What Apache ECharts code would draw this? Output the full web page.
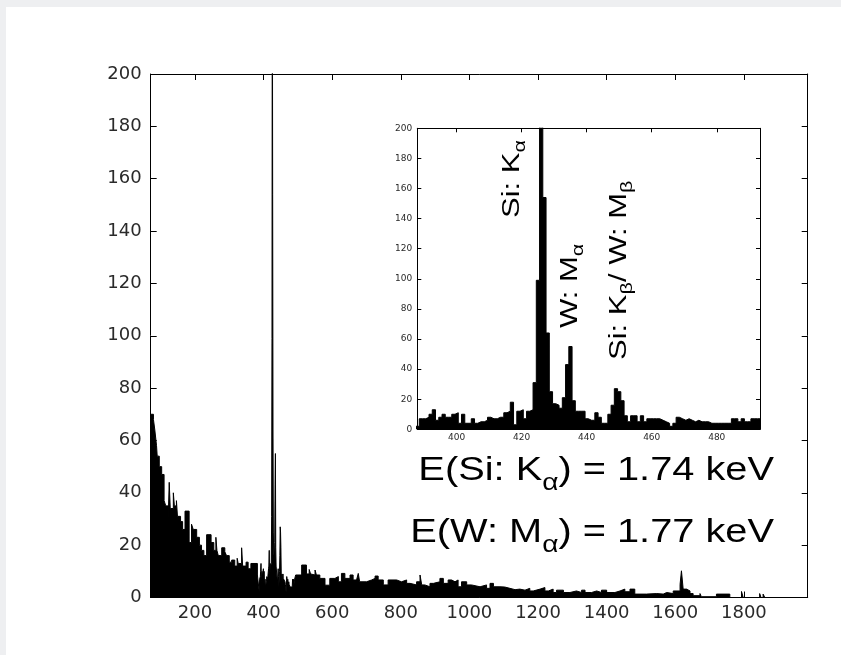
<!DOCTYPE html>
<html><head><meta charset="utf-8">
<script src="https://cdn.jsdelivr.net/npm/echarts@6/dist/echarts.min.js"></script>
<style>
html,body{margin:0;padding:0;background:#eeeff1;width:841px;height:655px;overflow:hidden}
#c{position:absolute;left:6px;top:7px;width:835px;height:648px;background:#fff}
</style></head><body><div id="c"></div>
<script>
// ---------- data ----------
const mainXTicks = [200, 400, 600, 800, 1000, 1200, 1400, 1600, 1800];
const insetXTicks = [400, 420, 440, 460, 480];
const mainXMin = 71, mainXMax = 1986;
const insetXMin = 387.9, insetXMax = 493.3;

// main spectrum, channels below the inset window (segment start channel, counts)
const lowStart = [70,79,83,88,90,96,103,110,115,122,125,128,137,140,146,149,158,164,171,183,190,195,205,213,219,226,234,247,255,261,264,268,278,287,292,300,307,316,323,326,336,339,349,355,363,382];
const lowCount = [70,68,64,58,54,50,47,37,35,30,44,34,40,35,37,31,29,26,33,21,28,26,23,20,18,16,24,21,18,23,18,16,19,17.5,16,13.5,14.3,12,15,13,19,12,13.5,11,13,8.6];

// per-channel counts shown in the inset (channels 388..493)
const insetFirstChannel = 388;
const insetCounts = [
 2,7,7,8,10,13,6,8,10,8,8,10,11,4,10,4,4,7,4,5,5,6,8,7,7,8,8,11,12,18,
 3,12,13,7,12,13,31,99,260,154,64,25,17,16,14,21,43,55,19,12,12,12,7,6,6,11,8,4,4,10,
 16,27,25,19,9,5,9,9,5,9,5,7,7,7,7,6,5,4,2,4,8,7,6,7,6,5,6,5,5,5,
 4,4,4,4,4,4,4,7,7,5,7,5,5,7,7,7];

// main spectrum, channels above the inset window (segment start channel, counts)
const highStart = [493.5,511,525,533,537,540,550,554,564,579,593,608,618,627,637,652,661,671,676,680,700,715,725,734,749,763,788,802,817,827,846,856,861,870,885,895,914,924,938,948,958,967,977,992,1006,1031,1050,1060,1070,1089,1103,1118,1133,1147,1162,1176,1186,1206,1220,1230,1244,1254,1274,1293,1312,1327,1337,1356,1371,1385,1400,1424,1439,1453,1468,1482,1516,1546,1565,1575,1594,1614,1618,1623,1633,1643,1652,1672,1676,1720,1759,1793,1798,1846,1850,1856,1861];
const highCount = [8.6,12.4,9,10.7,9,8.6,10.5,8.6,7.3,4.7,7.3,8,6,9.2,7.3,8.6,6.7,7.3,9.2,6,6.7,7.3,8.2,6.7,4.8,6.7,6,6.7,5.4,4.8,6,8.6,4.8,4.1,5.4,6,7.3,5.4,6.7,6,6.7,4.1,6,4.8,4.1,4.8,3.5,5.4,4.1,4,3.5,3,3.2,2.8,3.5,2.5,3.2,3.8,2.5,3.2,1.9,2.8,1.9,2.5,1.9,2.8,1.9,2.5,1.9,2.8,1.9,2.5,3.2,2.2,3.2,1.3,1.5,1.3,1.9,1.5,2.5,5,10.2,3.2,2.5,1.5,0.7,1.5,0.3,1.3,0,2.3,0,1.5,0,1.3,0];

// ---------- build series data ----------
const insetData = insetCounts.map((v, i) => [insetFirstChannel + i - 0.5, v]);
insetData.push([insetFirstChannel + insetCounts.length - 0.5, insetCounts[insetCounts.length - 1]]);
const mainData = [];
lowStart.forEach((s, i) => mainData.push([s, lowCount[i]]));
insetCounts.forEach((v, i) => mainData.push([insetFirstChannel + i - 0.5, v]));
highStart.forEach((s, i) => mainData.push([s, highCount[i]]));
mainData.push([mainXMax, 0]);

const chart = echarts.init(document.getElementById('c'), null, {renderer: 'canvas'});
const OX = 6, OY = 7;
const tickFont = 'DejaVu Sans';
const black = '#000';
const labelColor = '#2a2a2a';
const plain = v => String(v);

function xAx(grid, min, max, pos, ticks, len, labels, fs, margin, z) {
  return {gridIndex: grid, type: 'value', min, max, position: pos, z,
    axisLine: {show: true, onZero: false, lineStyle: {color: black, width: 1}},
    axisTick: {show: true, inside: true, length: len, customValues: ticks, lineStyle: {color: black, width: 1}},
    axisLabel: {show: labels, customValues: ticks, formatter: plain, fontFamily: tickFont, fontSize: fs, color: labelColor, margin},
    splitLine: {show: false}};
}
function yAx(grid, pos, len, labels, fs, margin, z) {
  return {gridIndex: grid, type: 'value', min: 0, max: 200, interval: 20, position: pos, z,
    axisLine: {show: true, onZero: false, lineStyle: {color: black, width: 1}},
    axisTick: {show: true, inside: true, length: len, lineStyle: {color: black, width: 1}},
    axisLabel: {show: labels, formatter: plain, fontFamily: tickFont, fontSize: fs, color: labelColor, margin},
    splitLine: {show: false}};
}

// ---------- annotation text with subscripts ----------
const mctx = document.createElement('canvas').getContext('2d');
const annFam = '"Liberation Sans", Arial, sans-serif';
function runText(parts, o) {
  const widths = parts.map(p => { mctx.font = (p.sub ? o.subFs : o.fs) + 'px ' + annFam; return mctx.measureText(p.t).width; });
  const total = widths.reduce((a, b) => a + b, 0);
  let pos = o.align === 'right' ? -total : 0;
  const dir = [Math.cos(o.rot), -Math.sin(o.rot)];
  const down = [Math.sin(o.rot), Math.cos(o.rot)];
  const els = [];
  parts.forEach((p, i) => {
    const f = p.sub ? o.subFs : o.fs;
    const along = pos * o.sx;
    const d = (p.sub ? o.drop : 0) - 0.35 * f;
    els.push({type: 'text', z: 100,
      x: o.x + dir[0] * along + down[0] * d - OX,
      y: o.y + dir[1] * along + down[1] * d - OY,
      rotation: o.rot, scaleX: o.sx, scaleY: 1,
      style: {text: p.t, font: f + 'px ' + annFam, fill: black, textAlign: 'left', textVerticalAlign: 'middle'}});
    pos += widths[i];
  });
  return els;
}
const R = Math.PI / 2;
const rot = {rot: R, sx: 1.35, fs: 23, subFs: 16, drop: 5};
const hor = {rot: 0, sx: 1.17, fs: 34, subFs: 24, drop: 9, align: 'right'};
const graphics = [].concat(
  runText([{t: 'Si: K'}, {t: 'α', sub: true}], Object.assign({x: 521, y: 218}, rot)),
  runText([{t: 'W: M'}, {t: 'α', sub: true}], Object.assign({x: 579, y: 328}, rot)),
  runText([{t: 'Si: K'}, {t: 'β', sub: true}, {t: '/ W: M'}, {t: 'β', sub: true}], Object.assign({x: 628, y: 360}, rot)),
  runText([{t: 'E(Si: K'}, {t: 'α', sub: true}, {t: ') = 1.74 keV'}], Object.assign({x: 774, y: 483}, hor)),
  runText([{t: 'E(W: M'}, {t: 'α', sub: true}, {t: ') = 1.77 keV'}], Object.assign({x: 774, y: 545}, hor))
);

chart.setOption({
  animation: false,
  backgroundColor: '#fff',
  grid: [
    {left: 150.7 - OX, top: 74 - OY, width: 657, height: 523.5, show: false, z: 0},
    {left: 417.3 - OX, top: 128.3 - OY, width: 342.7, height: 301, show: true, backgroundColor: '#fff', borderWidth: 0, z: 3}
  ],
  xAxis: [
    xAx(0, mainXMin, mainXMax, 'bottom', mainXTicks, 6, true, 18, 7, 0),
    xAx(0, mainXMin, mainXMax, 'top', mainXTicks, 6, false, 18, 7, 0),
    xAx(1, insetXMin, insetXMax, 'bottom', insetXTicks, 4, true, 9, 4, 6),
    xAx(1, insetXMin, insetXMax, 'top', insetXTicks, 4, false, 9, 4, 6)
  ],
  yAxis: [
    yAx(0, 'left', 6, true, 18, 9, 0),
    yAx(0, 'right', 6, false, 18, 9, 0),
    yAx(1, 'left', 4, true, 9, 5, 6),
    yAx(1, 'right', 4, false, 9, 5, 6)
  ],
  series: [
    {type: 'line', xAxisIndex: 0, yAxisIndex: 0, data: mainData, step: 'end', symbol: 'none', clip: true, z: 1,
      lineStyle: {color: black, width: 1}, areaStyle: {color: black, opacity: 1}},
    {type: 'line', xAxisIndex: 2, yAxisIndex: 2, data: insetData, step: 'end', symbol: 'none', clip: true, z: 4,
      lineStyle: {color: black, width: 1}, areaStyle: {color: black, opacity: 1}}
  ],
  graphic: graphics
});
</script></body></html>
